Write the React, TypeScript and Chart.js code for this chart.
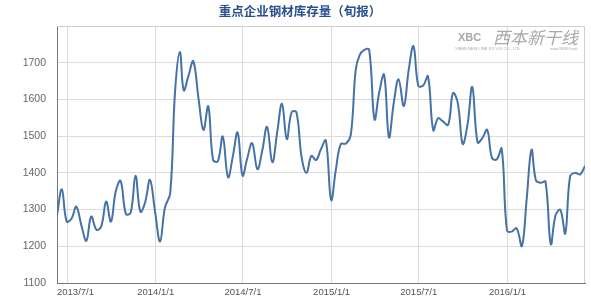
import { useEffect, useRef } from 'react';
import { Chart, registerables } from 'chart.js';

Chart.register(...registerables);

const TITLE = '重点企业钢材库存量（旬报）';

const dates = [
  '2013/6/10', '2013/6/20', '2013/6/30',
  '2013/7/10', '2013/7/20', '2013/7/31',
  '2013/8/10', '2013/8/20', '2013/8/31',
  '2013/9/10', '2013/9/20', '2013/9/30',
  '2013/10/10', '2013/10/20', '2013/10/31',
  '2013/11/10', '2013/11/20', '2013/11/30',
  '2013/12/10', '2013/12/20', '2013/12/31',
  '2014/1/10', '2014/1/20', '2014/1/31',
  '2014/2/10', '2014/2/20', '2014/2/28',
  '2014/3/10', '2014/3/20', '2014/3/31',
  '2014/4/10', '2014/4/20', '2014/4/30',
  '2014/5/10', '2014/5/20', '2014/5/31',
  '2014/6/10', '2014/6/20', '2014/6/30',
  '2014/7/10', '2014/7/20', '2014/7/31',
  '2014/8/10', '2014/8/20', '2014/8/31',
  '2014/9/10', '2014/9/20', '2014/9/30',
  '2014/10/10', '2014/10/20', '2014/10/31',
  '2014/11/10', '2014/11/20', '2014/11/30',
  '2014/12/10', '2014/12/20', '2014/12/31',
  '2015/1/10', '2015/1/20', '2015/1/31',
  '2015/2/10', '2015/2/20', '2015/2/28',
  '2015/3/10', '2015/3/20', '2015/3/31',
  '2015/4/10', '2015/4/20', '2015/4/30',
  '2015/5/10', '2015/5/20', '2015/5/31',
  '2015/6/10', '2015/6/20', '2015/6/30',
  '2015/7/10', '2015/7/20', '2015/7/31',
  '2015/8/10', '2015/8/20', '2015/8/31',
  '2015/9/10', '2015/9/20', '2015/9/30',
  '2015/10/10', '2015/10/20', '2015/10/31',
  '2015/11/10', '2015/11/20', '2015/11/30',
  '2015/12/10', '2015/12/20', '2015/12/31',
  '2016/1/10', '2016/1/20', '2016/1/31',
  '2016/2/10', '2016/2/20', '2016/2/29',
  '2016/3/10', '2016/3/20', '2016/3/31',
  '2016/4/10', '2016/4/20', '2016/4/30',
  '2016/5/10', '2016/5/20', '2016/5/31',
  '2016/6/10',
];

const inventory = [
  1285, 1355, 1268,
  1275, 1308, 1255,
  1215, 1281, 1245,
  1255, 1322, 1267,
  1350, 1378, 1288,
  1292, 1392, 1294,
  1320, 1381, 1290,
  1213, 1305, 1345,
  1620, 1729, 1625,
  1665, 1704, 1600,
  1517, 1581, 1435,
  1432, 1499, 1388,
  1445, 1510, 1393,
  1440, 1481, 1410,
  1460, 1525, 1429,
  1510, 1588, 1492,
  1565, 1565, 1440,
  1400, 1446, 1435,
  1465, 1488, 1326,
  1410, 1478, 1480,
  1505, 1680, 1720,
  1735, 1735, 1546,
  1620, 1667, 1497,
  1590, 1655, 1582,
  1680, 1745, 1637,
  1638, 1663, 1516,
  1549, 1540, 1531,
  1617, 1590, 1479,
  1530, 1634, 1483,
  1495, 1517, 1440,
  1437, 1466, 1243,
  1240, 1249, 1201,
  1330, 1463, 1380,
  1373, 1376, 1206,
  1285, 1299, 1235,
  1390, 1400, 1396,
  1419,
];

const xTickLabels = ['2013/7/1', '2014/1/1', '2014/7/1', '2015/1/1', '2015/7/1', '2016/1/1'];
const yTickValues = [1100, 1200, 1300, 1400, 1500, 1600, 1700, 1800];

const parseDate = (s: string) => {
  const [y, m, d] = s.split('/').map(Number);
  return Date.UTC(y, m - 1, d);
};

const framePlugin = {
  id: 'frame',
  beforeDatasetsDraw(chart: any) {
    const { ctx, chartArea } = chart;
    ctx.save();
    ctx.strokeStyle = '#cfcfcf';
    ctx.lineWidth = 1;
    ctx.beginPath();
    ctx.moveTo(chartArea.left, chartArea.top + 0.5);
    ctx.lineTo(chartArea.right - 0.5, chartArea.top + 0.5);
    ctx.lineTo(chartArea.right - 0.5, chartArea.bottom);
    ctx.stroke();
    ctx.restore();
  },
  afterDraw(chart: any) {
    const { ctx, chartArea } = chart;
    const xs = chart.scales.x;
    ctx.save();
    // title
    ctx.font = 'bold 12.5px "Noto Sans CJK SC", sans-serif';
    ctx.fillStyle = '#2a4f8f';
    ctx.textAlign = 'center';
    ctx.textBaseline = 'middle';
    ctx.fillText(TITLE, 300, 11);
    // watermark
    ctx.fillStyle = '#a8a8a8';
    ctx.font = 'bold 11px "Liberation Sans", Arial, sans-serif';
    ctx.textAlign = 'left';
    ctx.fillText('XBC', 458, 38);
    ctx.font = 'italic 17px "Noto Sans CJK SC", sans-serif';
    ctx.fillText('西本新干线', 493, 38);
    ctx.font = '4px "Liberation Sans", Arial, sans-serif';
    ctx.fillText('XIBEN NEW LINE STOCK CO., LTD.', 455, 49);
    ctx.fillText('www.96369.net', 550, 49);
    // x labels (justified inside plot area)
    ctx.font = '9.5px "Liberation Sans", Arial, sans-serif';
    ctx.fillStyle = '#555';
    ctx.textBaseline = 'middle';
    ctx.textAlign = 'left';
    xTickLabels.forEach((l) => {
      const px = xs.getPixelForValue(parseDate(l));
      const w = ctx.measureText(l).width;
      let left = px - w / 2;
      if (left < chartArea.left) left = chartArea.left;
      if (left + w > chartArea.right) left = chartArea.right - w;
      ctx.fillText(l, left, chartArea.bottom + 9);
    });
    ctx.restore();
  },
};

export default function App() {
  const ref = useRef<HTMLCanvasElement>(null);
  useEffect(() => {
    const points = dates.map((d, i) => ({ x: parseDate(d), y: inventory[i] }));
    const chart = new Chart(ref.current!, {
      type: 'line',
      data: {
        datasets: [
          {
            label: '库存量',
            data: points,
            borderColor: '#4572a7',
            borderWidth: 2,
            pointRadius: 0,
            fill: false,
            tension: 0.4,
          },
        ],
      },
      options: {
        animation: false,
        responsive: false,
        layout: { padding: { top: 26, right: 6, left: 0, bottom: 0 } },
        plugins: { legend: { display: false }, tooltip: { enabled: false }, title: { display: false } },
        scales: {
          x: {
            type: 'linear',
            min: parseDate(dates[0]),
            max: parseDate(dates[dates.length - 1]),
            afterBuildTicks: (s: any) => {
              s.ticks = xTickLabels.map((l) => ({ value: parseDate(l) }));
            },
            afterFit: (s: any) => {
              s.height = 21;
            },
            ticks: { display: false },
            grid: { color: '#dcdcdc', drawTicks: false },
            border: { color: '#777', width: 1 },
          },
          y: {
            min: 1100,
            max: 1800,
            afterBuildTicks: (s: any) => {
              s.ticks = yTickValues.map((v) => ({ value: v }));
            },
            afterFit: (s: any) => {
              s.width = 57;
            },
            ticks: {
              padding: 11,
              color: '#666',
              font: { family: '"Liberation Sans", Arial, sans-serif', size: 10.5 },
              callback: (v: any) => (v === 1800 ? '' : String(v)),
            },
            grid: { color: '#dcdcdc', drawTicks: false },
            border: { color: '#777', width: 1 },
          },
        },
      },
      plugins: [framePlugin],
    });
    return () => chart.destroy();
  }, []);
  return (
    <div style={{ position: 'fixed', left: 0, top: 0, width: 591, height: 304, background: '#fff' }}>
      <canvas ref={ref} width={591} height={304} />
    </div>
  );
}
